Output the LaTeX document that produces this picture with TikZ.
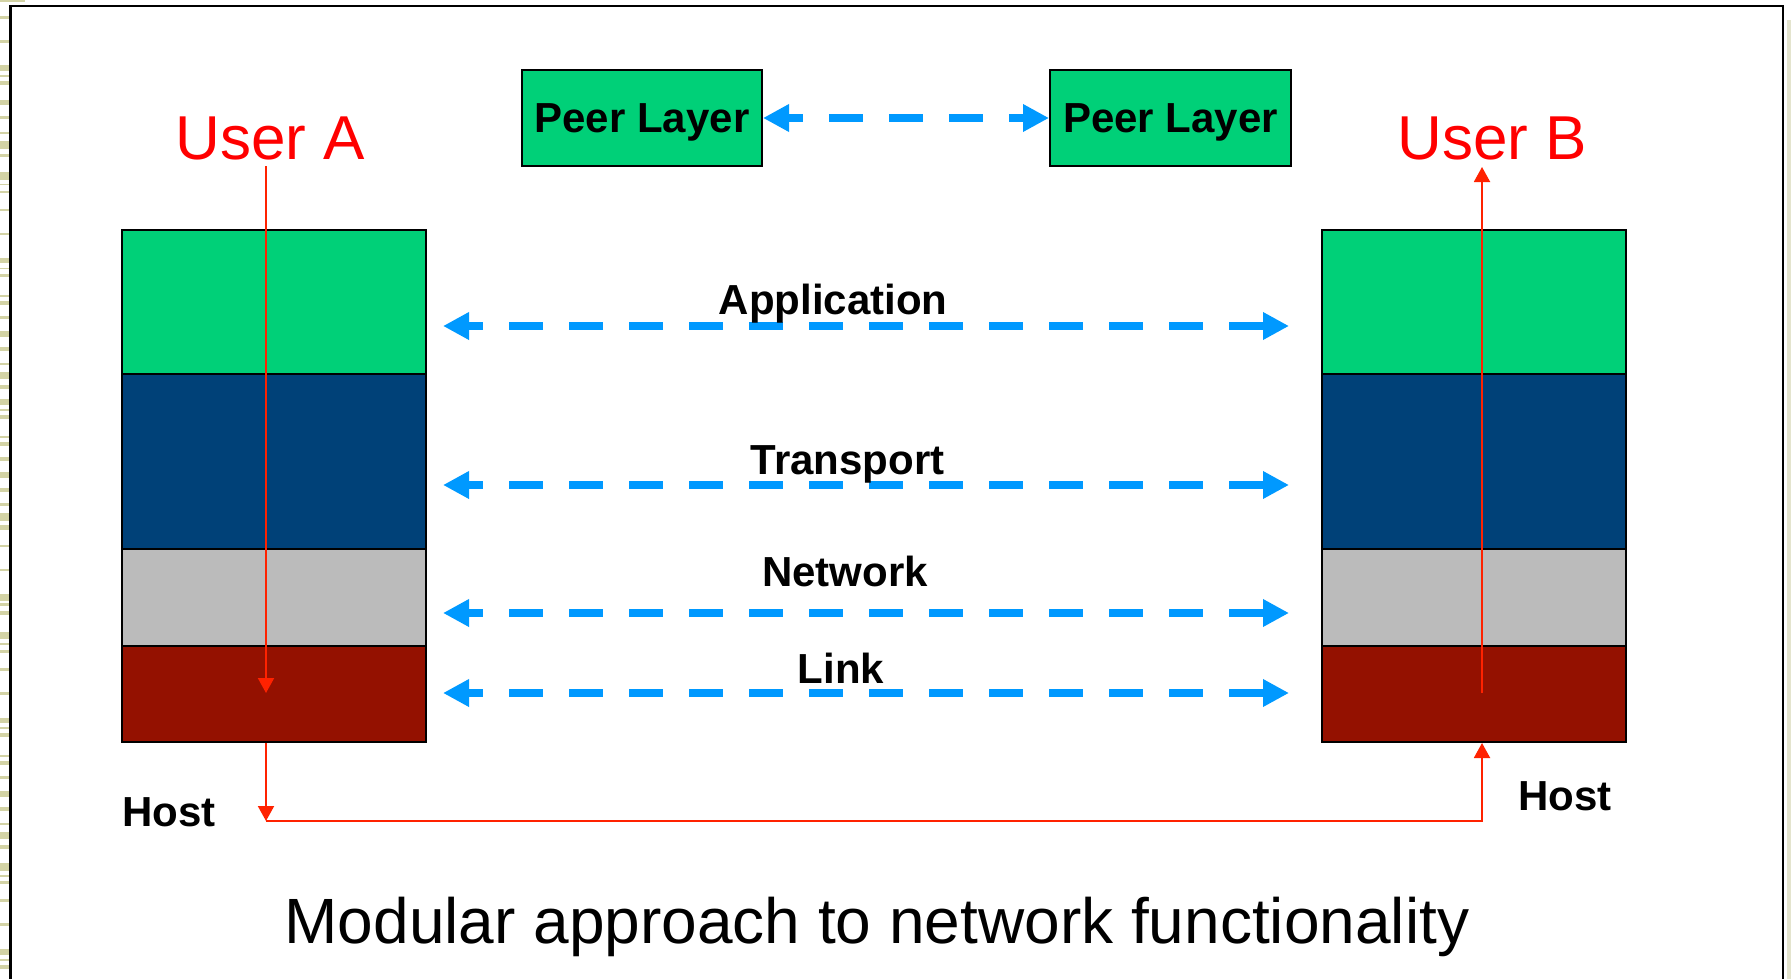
\documentclass[tikz,border=0pt]{standalone}
\usepackage{fontspec}
\setmainfont{Liberation Sans}
\usetikzlibrary{arrows.meta}
\definecolor{lgreen}{HTML}{00D078}
\definecolor{dblue}{HTML}{004178}
\definecolor{lgray}{HTML}{BBBBBB}
\definecolor{dred}{HTML}{941100}
\definecolor{arrowblue}{HTML}{0099FF}
\definecolor{flowred}{HTML}{FF2200}
\definecolor{textred}{HTML}{FF0000}
\definecolor{olive}{HTML}{D3D3A5}
\definecolor{lolive}{HTML}{E4E4CE}
\begin{document}
\begin{tikzpicture}[x=1pt,y=-1pt,
  layerbox/.style={draw=black, line width=2pt, inner sep=0pt, minimum width=304pt},
  peerbox/.style={draw=black, line width=2pt, fill=lgreen, inner sep=0pt, minimum width=240pt, minimum height=96pt, text depth=0pt, font=\fontsize{42}{48}\selectfont\bfseries},
  peerarrow/.style={draw=arrowblue, line width=8pt, dash pattern=on 34pt off 26pt, dash phase=18pt, {Triangle[length=26pt,width=26pt]}-{Triangle[length=26pt,width=26pt]}},
  flow/.style={draw=flowred, line width=2pt},
  flowtip/.style={-{Triangle[length=15pt,width=16pt]}},
  lbl/.style={font=\fontsize{42}{48}\selectfont\bfseries, inner sep=0pt, anchor=base},
  userlbl/.style={font=\fontsize{62}{70}\selectfont, text=textred, inner sep=0pt, anchor=base},
  titlelbl/.style={font=\fontsize{64}{72}\selectfont, inner sep=0pt, anchor=base}
]
\useasboundingbox (0,0) rectangle (1791,979);
% slide decoration
\fill[olive] (0,0) rectangle (25,2);
\foreach \a/\b in {16/19,40/43,65/71,75/77,81/85,100/105,116/119,132/134,141/149,154/157,172/180,184/185,191/193,209/211,233/235,258/263,268/269,274/277,
295/297,301/305,316/319,331/337,347/351,363/365,372/379,385/389,399/405,409/411,415/419,436/438,442/446,457/461,472/478,488/492,503/506,513/521,525/530,545/547,569/571,594/601,603/606,
611/615,632/639,643/645,650/653,668/671,692/695,718/723,727/729,733/737,755/757,761/765,776/779,791/797,807/811,823/825,832/839,845/849,863/871,875/877,881/884,899/902,923/926,949/955,959/961,965/969}
  \fill[olive] (0,\a) rectangle (9,\b);
\fill[lolive] (1787,20) rectangle (1791,979);
% frame
\draw[line width=2.8pt] (10.3,979) -- (10.3,6) -- (1783,6) -- (1783,979);

% left stack
\node[layerbox, fill=lgreen, minimum height=144pt] (lapp) at (274,302) {};
\node[layerbox, fill=dblue, minimum height=175pt] (ltra) at (274,461.5) {};
\node[layerbox, fill=lgray, minimum height=97pt] (lnet) at (274,597.5) {};
\node[layerbox, fill=dred, minimum height=96pt] (llink) at (274,694) {};
% right stack
\node[layerbox, fill=lgreen, minimum height=144pt] (rapp) at (1474,302) {};
\node[layerbox, fill=dblue, minimum height=175pt] (rtra) at (1474,461.5) {};
\node[layerbox, fill=lgray, minimum height=97pt] (rnet) at (1474,597.5) {};
\node[layerbox, fill=dred, minimum height=96pt] (rlink) at (1474,694) {};

% peer layers
\node[peerbox] (peerL) at (642,118) {Peer Layer};
\node[peerbox, minimum width=241pt] (peerR) at (1170.5,118) {Peer Layer};
\draw[peerarrow] (peerL.east) -- (peerR.west);

% layer arrows
\coordinate (appL) at (443,326); \coordinate (appR) at (1289,326);
\coordinate (traL) at (443,485); \coordinate (traR) at (1289,485);
\coordinate (netL) at (443,613); \coordinate (netR) at (1289,613);
\coordinate (linkL) at (443,693); \coordinate (linkR) at (1289,693);
\draw[peerarrow] (appL) -- (appR);
\draw[peerarrow] (traL) -- (traR);
\draw[peerarrow] (netL) -- (netR);
\draw[peerarrow] (linkL) -- (linkR);

\node[lbl] (tapp) at (833,314) {Application};
\node[lbl] (ttra) at (847.5,474) {Transport};
\node[lbl] (tnet) at (845,586) {Network};
\node[lbl] (tlink) at (841,683) {Link};

% users
\node[userlbl] (userA) at (270,160) {User A};
\node[userlbl] (userB) at (1492,160) {User B};

% hosts
\node[lbl, anchor=base west] (hostA) at (122,826) {Host};
\node[lbl, anchor=base west] (hostB) at (1518,810) {Host};

% red flow
\coordinate (ua) at (266,166);
\coordinate (la) at (266,693);
\coordinate (lcorner) at (266,821);
\coordinate (rb) at (1482,821);
\coordinate (rl) at (1482,693);
\coordinate (ub) at (1482,167);
\draw[flow, flowtip] (ua) -- (la);
\draw[flow, flowtip] (llink.south -| ua) -- (lcorner);
\draw[flow, flowtip] (lcorner) -- (rb) -- (rlink.south -| rb);
\draw[flow, flowtip] (rl) -- (ub);

% title
\node[titlelbl] (title) at (877,943) {Modular approach to network functionality};
\end{tikzpicture}
\end{document}
